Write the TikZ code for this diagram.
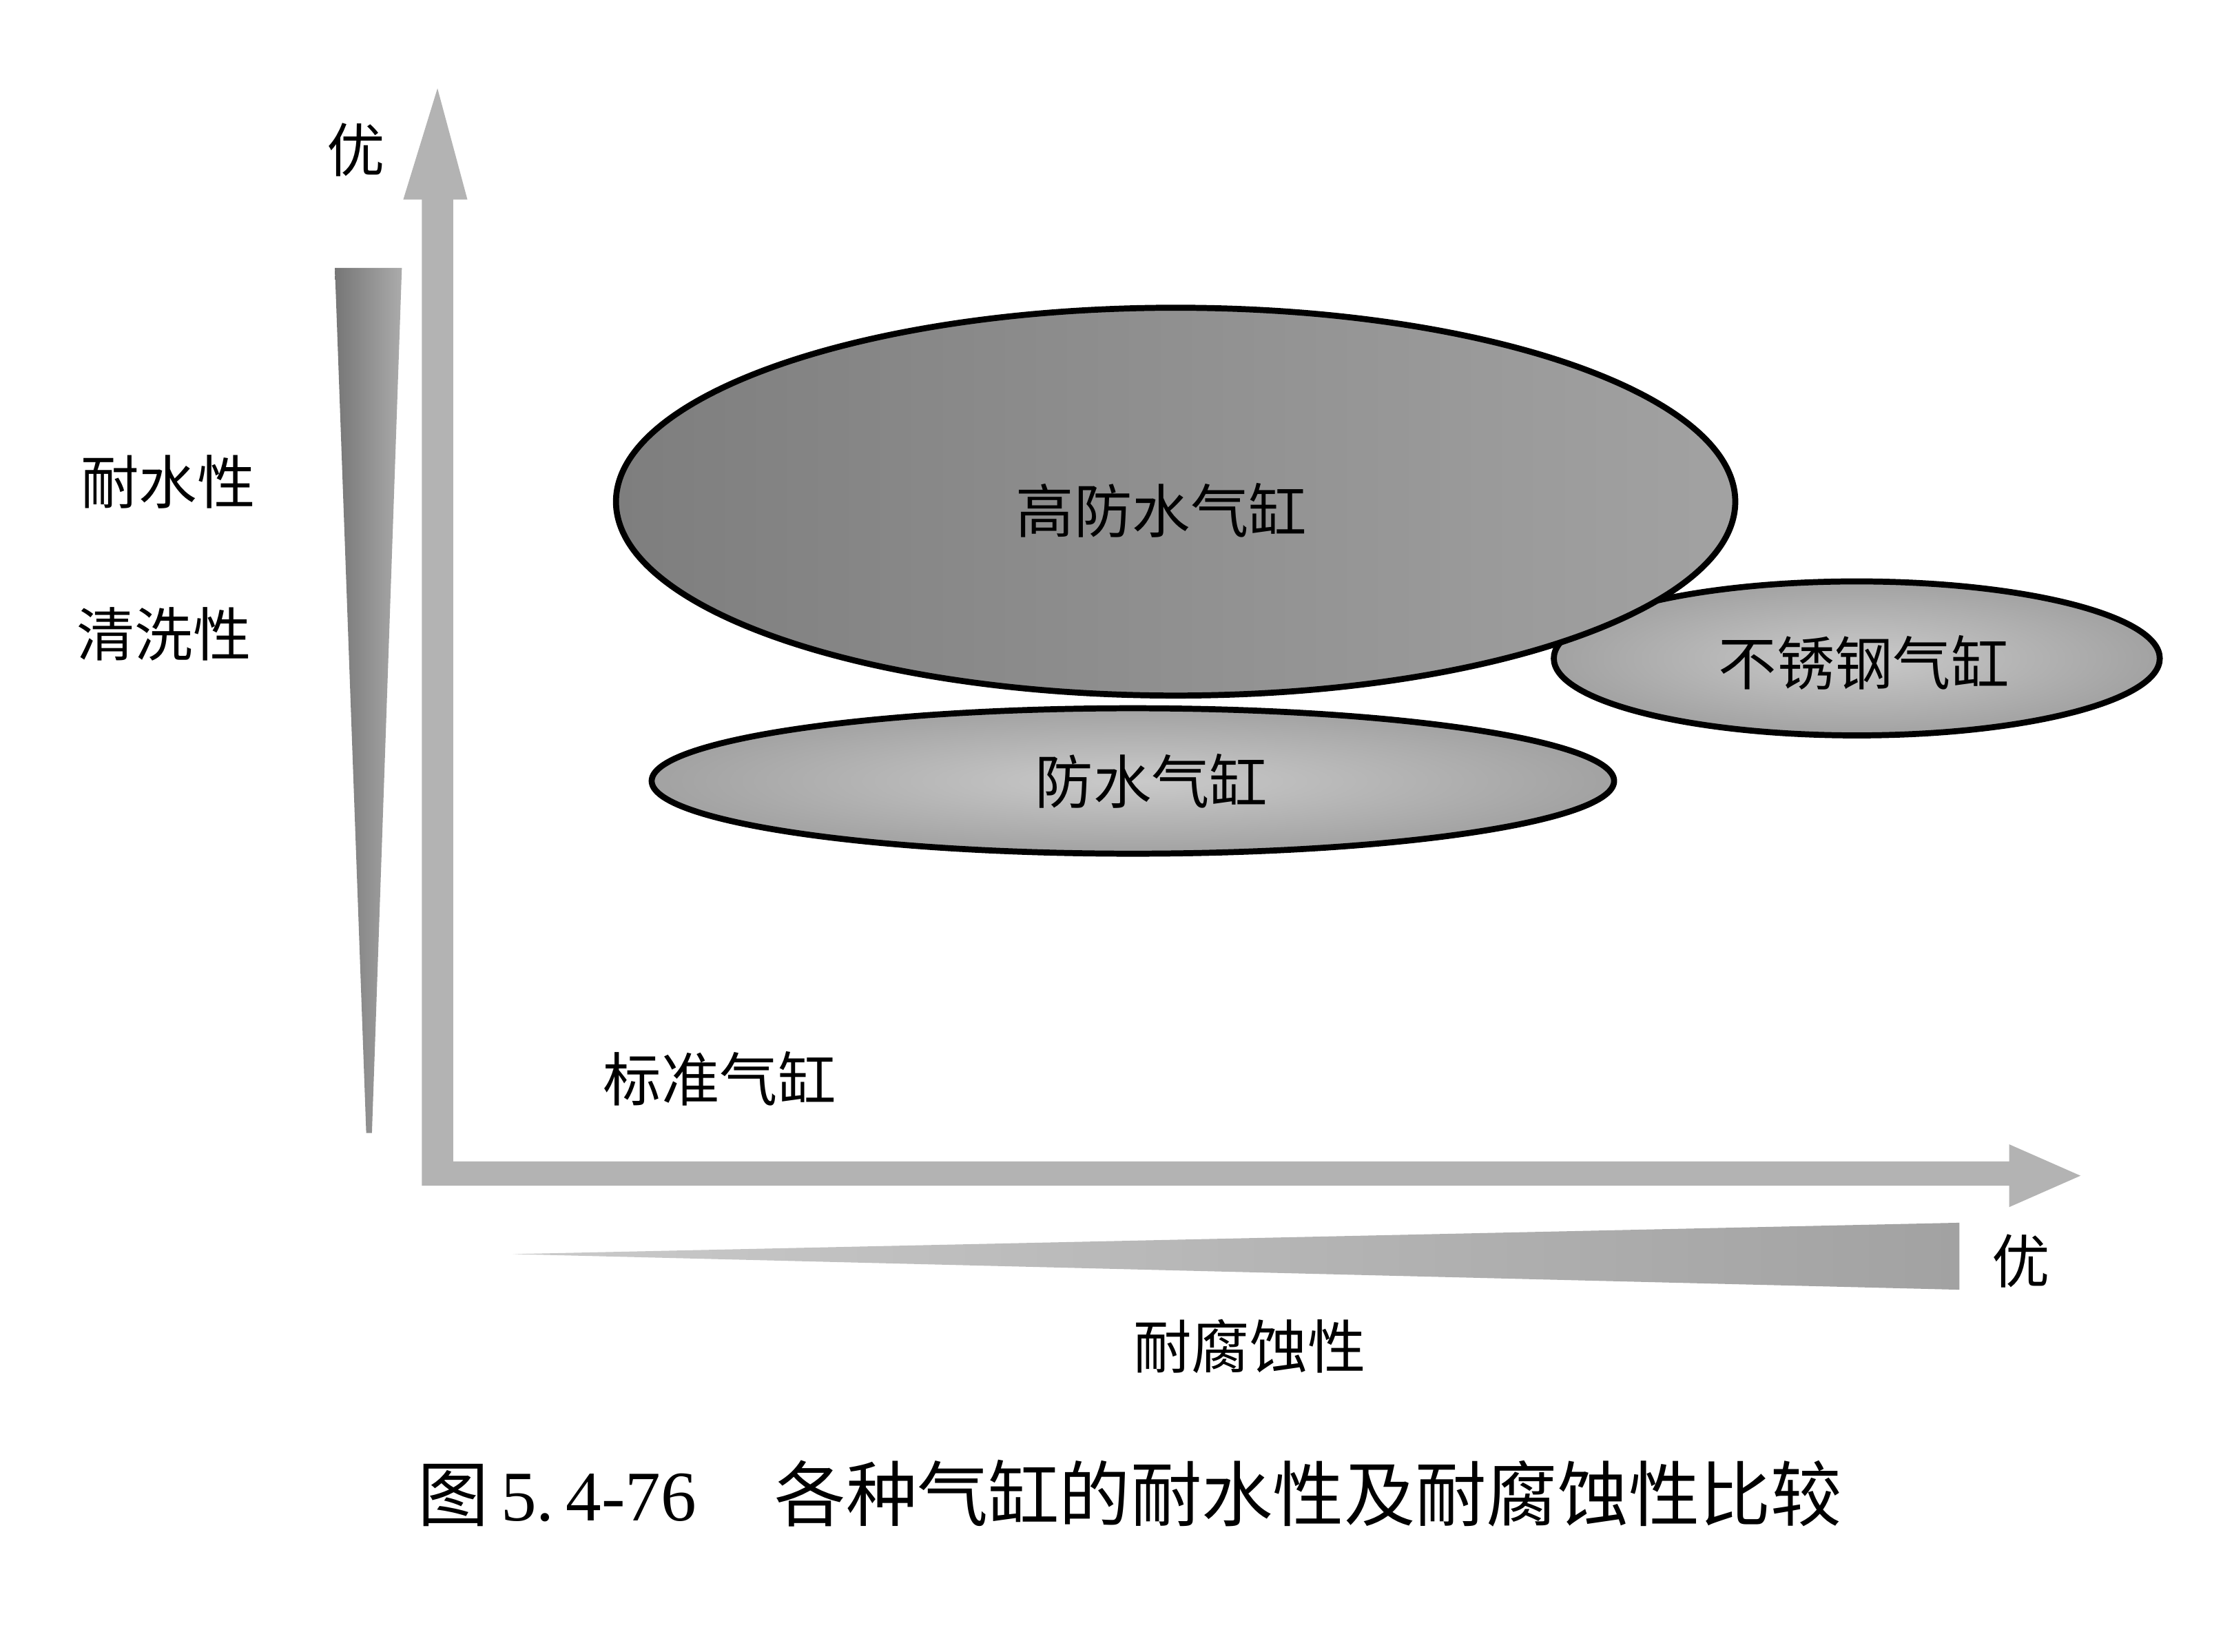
\documentclass[tikz,border=0pt]{standalone}
\usepackage{fontspec}
\setmainfont{Liberation Serif}
\newfontfamily\cjk{Noto Sans CJK SC}
\usetikzlibrary{shapes.geometric}
\definecolor{axisgray}{HTML}{B3B3B3}
\definecolor{wedgedark}{HTML}{767676}
\definecolor{wedgelight}{HTML}{ABABAB}
\definecolor{cyldark}{HTML}{7E7E7E}
\definecolor{cylmid}{HTML}{A2A2A2}
\definecolor{cyllight}{HTML}{CACACA}
\tikzset{
    cyl/.style={ellipse,draw=black,line width=1.2pt,inner sep=0pt,outer sep=0pt},
    lbl/.style={font=\cjk\fontsize{11.6}{12}\selectfont,inner sep=0pt}
}

\begin{document}
\begin{tikzpicture}[x=0.01cm,y=-0.01cm]
    \useasboundingbox[fill=white] (0,0) rectangle (1560,1159);
    \fill[axisgray] (296,832)--(296,140)--(283,140)--(307,62)--(328,140)--(318,140)--(318,815)--(1410,815)--(1410,803)--(1460,825)--(1410,847)--(1410,832)--cycle;
    \shade[left color=wedgedark,right color=wedgelight] (235,188)--(282,188)--(261,795)--(257,795)--cycle;
    \shade[left color=cyllight,right color=cylmid] (360,880)--(1375,858)--(1375,905)--cycle;
    \node[cyl,shading=radial,inner color=cyllight,outer color=cylmid,minimum width=4.25cm,minimum height=1.08cm] (ss) at (1303,462) {};
    \node[lbl] at (1308,465) {不锈钢气缸};
    \node[cyl,shading=radial,inner color=cyllight,outer color=cylmid,minimum width=6.75cm,minimum height=1.02cm] (wp) at (795,548) {};
    \node[lbl] at (808,548) {防水气缸};
    \node[cyl,left color=cyldark,right color=cylmid,minimum width=7.85cm,minimum height=2.72cm] (hwp) at (825,352) {};
    \node[lbl] at (815,358) {高防水气缸};
    \node[lbl] (besty) at (250,105) {优};
    \node[lbl] (water) at (118,338) {耐水性};
    \node[lbl] (clean) at (115,445) {清洗性};
    \node[lbl] (std) at (505,757) {标准气缸};
    \node[lbl] (bestx) at (1418,885) {优};
    \node[lbl] (corr) at (877,945) {耐腐蚀性};
    \node[inner sep=0pt,font=\fontsize{14.2}{15}\selectfont] (cap) at (793,1048) {{\cjk 图}\,5.\,4-76\hspace{1.1em}{\cjk 各种气缸的耐水性及耐腐蚀性比较}};
\end{tikzpicture}
\end{document}
